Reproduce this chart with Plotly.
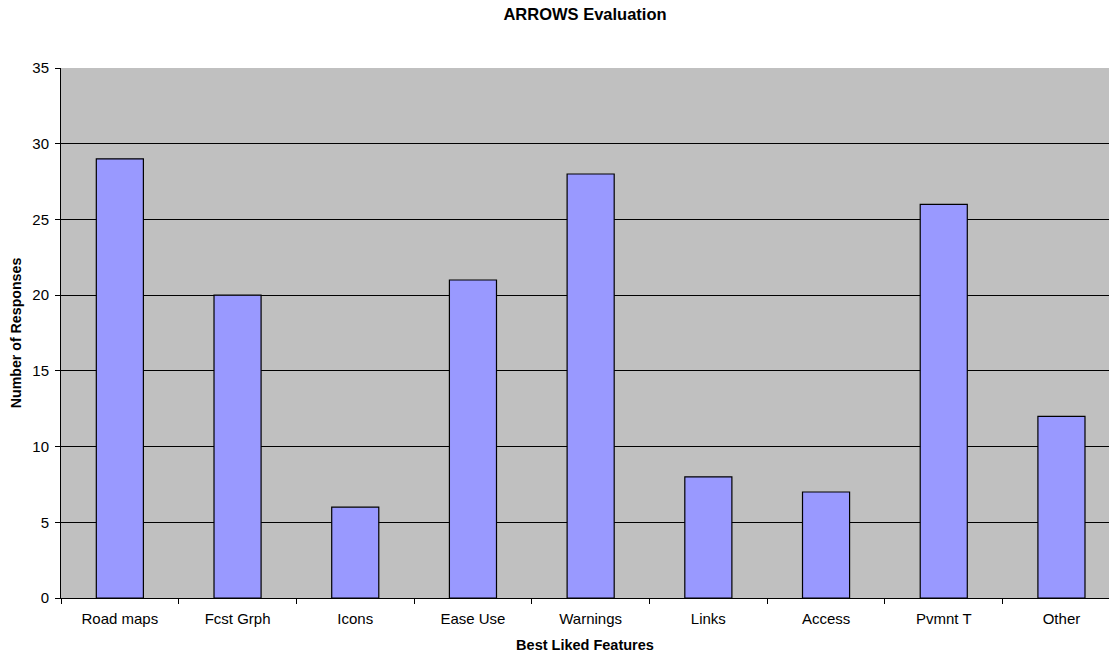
import plotly.graph_objects as go

features = ["Road maps", "Fcst Grph", "Icons", "Ease Use", "Warnings",
            "Links", "Access", "Pvmnt T", "Other"]
responses = [29, 20, 6, 21, 28, 8, 7, 26, 12]
y_ticks = [0, 5, 10, 15, 20, 25, 30, 35]

FONT = "Liberation Sans, Arial, sans-serif"

fig = go.Figure(
    go.Bar(
        x=features,
        y=responses,
        width=0.4,
        marker=dict(color="#9999ff", line=dict(color="#000000", width=1.2)),
        hoverinfo="x+y",
    )
)

fig.update_layout(
    width=1109,
    height=653,
    margin=dict(l=61, r=0, t=68, b=55),
    paper_bgcolor="white",
    plot_bgcolor="#c0c0c0",
    showlegend=False,
    title=dict(
        text="<b>ARROWS Evaluation</b>",
        x=0.5, xanchor="center", xref="paper",
        y=1 - 14 / 653, yanchor="middle", yref="container",
        font=dict(family=FONT, size=16.5, color="black"),
    ),
    font=dict(family=FONT, size=15, color="black"),
)

fig.update_xaxes(
    type="category",
    range=[-0.5, 8.404],
    showline=True, linecolor="black", linewidth=1,
    ticks="outside", tickson="boundaries", ticklen=5, tickcolor="black",
    ticklabelstandoff=7,
    showgrid=False,
    tickfont=dict(family=FONT, size=15, color="black"),
    title=dict(text="<b>Best Liked Features</b>", standoff=13,
               font=dict(family=FONT, size=14.5, color="black")),
)

fig.update_yaxes(
    range=[0, 35],
    tickvals=y_ticks,
    showline=True, linecolor="black", linewidth=1,
    ticks="outside", ticklen=5, tickcolor="black",
    ticklabelstandoff=3,
    showgrid=True, gridcolor="black", gridwidth=1,
    zeroline=False,
    tickfont=dict(family=FONT, size=15, color="black"),
    title=dict(text="<b>Number of Responses</b>", standoff=7,
               font=dict(family=FONT, size=14.2, color="black")),
)

fig.write_html("out.html")
